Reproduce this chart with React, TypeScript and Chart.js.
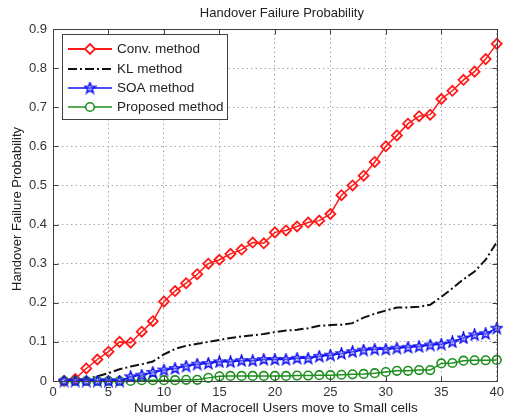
import React, { useEffect, useRef } from 'react';
import { Chart, registerables } from 'chart.js';

Chart.register(...registerables);

const users = [1, 2, 3, 4, 5, 6, 7, 8, 9, 10, 11, 12, 13, 14, 15, 16, 17, 18, 19, 20, 21, 22, 23, 24, 25, 26, 27, 28, 29, 30, 31, 32, 33, 34, 35, 36, 37, 38, 39, 40];
const convMethod = [0, 0.005, 0.032, 0.055, 0.075, 0.1, 0.098, 0.126, 0.153, 0.203, 0.23, 0.25, 0.273, 0.3, 0.31, 0.325, 0.336, 0.354, 0.352, 0.38, 0.385, 0.395, 0.405, 0.41, 0.427, 0.475, 0.5, 0.525, 0.56, 0.6, 0.628, 0.658, 0.677, 0.681, 0.721, 0.742, 0.77, 0.791, 0.823, 0.862];
const klMethod = [0, 0, 0.005, 0.012, 0.02, 0.03, 0.037, 0.043, 0.05, 0.068, 0.082, 0.09, 0.095, 0.1, 0.105, 0.11, 0.114, 0.117, 0.12, 0.125, 0.129, 0.131, 0.135, 0.141, 0.143, 0.144, 0.148, 0.162, 0.172, 0.18, 0.188, 0.188, 0.19, 0.195, 0.215, 0.237, 0.26, 0.28, 0.31, 0.355];
const soaMethod = [0, 0, 0, 0, 0, 0, 0.011, 0.015, 0.022, 0.028, 0.032, 0.038, 0.043, 0.045, 0.049, 0.049, 0.052, 0.052, 0.055, 0.055, 0.055, 0.058, 0.058, 0.063, 0.066, 0.07, 0.075, 0.079, 0.081, 0.081, 0.084, 0.086, 0.088, 0.092, 0.094, 0.1, 0.11, 0.118, 0.121, 0.135];
const proposedMethod = [0, 0, 0, 0, 0, 0, 0, 0.002, 0.002, 0.002, 0.002, 0.003, 0.003, 0.008, 0.012, 0.013, 0.013, 0.013, 0.013, 0.013, 0.013, 0.014, 0.014, 0.015, 0.015, 0.016, 0.017, 0.018, 0.02, 0.023, 0.026, 0.026, 0.028, 0.028, 0.045, 0.046, 0.052, 0.053, 0.053, 0.054];

const seriesNames = ['Conv. method', 'KL method', 'SOA method', 'Proposed method'];
const xTickValues = [0, 5, 10, 15, 20, 25, 30, 35, 40];
const yTickLabels = ['0', '0.1', '0.2', '0.3', '0.4', '0.5', '0.6', '0.7', '0.8', '0.9'];
const chartTitle = 'Handover Failure Probability';
const xAxisTitle = 'Number of Macrocell Users move to Small cells';
const yAxisTitle = 'Handover Failure Probability';

const FONT = '"Liberation Sans", Arial, Helvetica, sans-serif';
const RED = '#ff1a1a';
const BLUE = '#1010f0';
const GREEN = '#1f8f1f';
const BLACK = '#111111';
const KL_DASH = [9, 3, 2, 3];

function makeStar(color: string): HTMLCanvasElement {
  const c = document.createElement('canvas');
  c.width = 13;
  c.height = 13;
  const g = c.getContext('2d')!;
  const cx = 6.5, cy = 6.7, ro = 5.8, ri = 2.4;
  g.beginPath();
  for (let i = 0; i < 10; i++) {
    const r = i % 2 === 0 ? ro : ri;
    const a = -Math.PI / 2 + (i * Math.PI) / 5;
    const px = cx + r * Math.cos(a);
    const py = cy + r * Math.sin(a);
    if (i === 0) g.moveTo(px, py); else g.lineTo(px, py);
  }
  g.closePath();
  g.fillStyle = 'rgba(150,150,255,0.5)';
  g.fill();
  g.lineWidth = 1.4;
  g.strokeStyle = color;
  g.lineJoin = 'miter';
  g.stroke();
  return c;
}

export default function App() {
  const ref = useRef<HTMLCanvasElement | null>(null);

  useEffect(() => {
    if (!ref.current) return;
    const star = makeStar(BLUE);

    const drawMarker = (ctx: CanvasRenderingContext2D, kind: string, x: number, y: number) => {
      ctx.save();
      if (kind === 'diamond') {
        ctx.strokeStyle = RED;
        ctx.lineWidth = 1.8;
        ctx.beginPath();
        ctx.moveTo(x, y - 5);
        ctx.lineTo(x + 5, y);
        ctx.lineTo(x, y + 5);
        ctx.lineTo(x - 5, y);
        ctx.closePath();
        ctx.fillStyle = '#fff';
        ctx.fill();
        ctx.stroke();
      } else if (kind === 'star') {
        ctx.drawImage(star, x - 6.5, y - 6.5);
      } else if (kind === 'circle') {
        ctx.strokeStyle = GREEN;
        ctx.lineWidth = 1.6;
        ctx.beginPath();
        ctx.arc(x, y, 4.3, 0, Math.PI * 2);
        ctx.fillStyle = '#fff';
        ctx.fill();
        ctx.stroke();
      }
      ctx.restore();
    };

    const decorPlugin = {
      id: 'decor',
      afterDraw(chart: any) {
        const { ctx, chartArea, scales } = chart;
        const { left, right, top, bottom } = chartArea;
        const L = Math.round(left) + 0.5, R = Math.round(right) + 0.5;
        const T = Math.round(top) + 0.5, B = Math.round(bottom) + 0.5;
        ctx.save();
        ctx.strokeStyle = '#404040';
        ctx.lineWidth = 1;
        ctx.setLineDash([]);
        ctx.strokeRect(L, T, R - L, B - T);
        ctx.beginPath();
        xTickValues.forEach((v) => {
          const px = Math.round(scales.x.getPixelForValue(v)) + 0.5;
          ctx.moveTo(px, B); ctx.lineTo(px, B - 5);
          ctx.moveTo(px, T); ctx.lineTo(px, T + 5);
        });
        yTickLabels.forEach((_, i) => {
          const py = Math.round(scales.y.getPixelForValue(i / 10)) + 0.5;
          ctx.moveTo(L, py); ctx.lineTo(L + 5, py);
          ctx.moveTo(R, py); ctx.lineTo(R - 5, py);
        });
        ctx.stroke();

        ctx.fillStyle = '#222';
        ctx.textAlign = 'center';
        ctx.textBaseline = 'middle';
        ctx.font = `13px ${FONT}`;
        ctx.fillText(chartTitle, (left + right) / 2 + 7, 13);
        ctx.font = `13.5px ${FONT}`;
        ctx.fillText(xAxisTitle, (left + right) / 2 + 1, 408);
        ctx.save();
        ctx.translate(17, (top + bottom) / 2 + 4);
        ctx.rotate(-Math.PI / 2);
        ctx.font = `13px ${FONT}`;
        ctx.fillText(yAxisTitle, 0, 0);
        ctx.restore();

        const lx = 62, ly = 34, lw = 165, lh = 85;
        ctx.fillStyle = '#ffffff';
        ctx.fillRect(lx, ly, lw, lh);
        ctx.strokeStyle = '#404040';
        ctx.lineWidth = 1;
        ctx.strokeRect(lx + 0.5, ly + 0.5, lw, lh);
        const rows = [49, 69, 88, 107];
        const styles = [
          { color: RED, dash: [] as number[], marker: 'diamond', width: 1.8 },
          { color: BLACK, dash: KL_DASH, marker: '', width: 2 },
          { color: BLUE, dash: [] as number[], marker: 'star', width: 1.6 },
          { color: GREEN, dash: [] as number[], marker: 'circle', width: 1.6 },
        ];
        rows.forEach((ry, i) => {
          const s = styles[i];
          ctx.save();
          ctx.strokeStyle = s.color;
          ctx.lineWidth = s.width;
          ctx.setLineDash(s.dash);
          ctx.beginPath();
          ctx.moveTo(68, ry);
          ctx.lineTo(112, ry);
          ctx.stroke();
          ctx.restore();
          if (s.marker) drawMarker(ctx, s.marker, 90, ry);
          ctx.fillStyle = '#222';
          ctx.textAlign = 'left';
          ctx.textBaseline = 'middle';
          ctx.font = `13.5px ${FONT}`;
          ctx.fillText(seriesNames[i], 117, ry + 0.5);
        });
        ctx.restore();
      },
    };

    const pts = (vals: number[]) => users.map((u, i) => ({ x: u, y: vals[i] }));

    const chart = new Chart(ref.current, {
      type: 'line',
      data: {
        datasets: [
          {
            label: seriesNames[0],
            data: pts(convMethod),
            borderColor: RED,
            borderWidth: 1.5,
            pointStyle: 'rectRot',
            pointRadius: 5,
            pointBorderWidth: 1.8,
            pointBorderColor: RED,
            pointBackgroundColor: 'rgba(255,255,255,0)',
            clip: false,
            order: 4,
          },
          {
            label: seriesNames[1],
            data: pts(klMethod),
            borderColor: BLACK,
            borderWidth: 2,
            borderDash: KL_DASH,
            pointRadius: 0,
            clip: false,
            order: 3,
          },
          {
            label: seriesNames[2],
            data: pts(soaMethod),
            borderColor: BLUE,
            borderWidth: 1.5,
            pointStyle: star,
            pointRadius: 6,
            pointBorderWidth: 0,
            clip: false,
            order: 1,
          },
          {
            label: seriesNames[3],
            data: pts(proposedMethod),
            borderColor: GREEN,
            borderWidth: 1.5,
            pointStyle: 'circle',
            pointRadius: 4.3,
            pointBorderWidth: 1.6,
            pointBorderColor: GREEN,
            pointBackgroundColor: 'rgba(255,255,255,0)',
            clip: false,
            order: 2,
          },
        ],
      },
      options: {
        responsive: false,
        maintainAspectRatio: false,
        animation: false,
        devicePixelRatio: 1,
        layout: { padding: { top: 29, right: 9, left: 0, bottom: 0 } },
        plugins: { legend: { display: false }, title: { display: false }, tooltip: { enabled: false } },
        elements: { line: { tension: 0 } },
        scales: {
          x: {
            type: 'linear',
            min: 0,
            max: 40,
            afterFit: (s: any) => { s.height = 38; },
            ticks: {
              stepSize: 5,
              padding: 4,
              color: '#333',
              font: { family: FONT, size: 13 },
              maxRotation: 0,
              callback: (_v: any, i: number) => String(xTickValues[i]),
            },
            grid: { color: '#a8a8a8', lineWidth: 1, drawTicks: false },
            border: { display: false, dash: [1.5, 3] },
          },
          y: {
            type: 'linear',
            min: 0,
            max: 0.9,
            afterFit: (s: any) => { s.width = 53; },
            ticks: {
              stepSize: 0.1,
              padding: 6,
              color: '#333',
              font: { family: FONT, size: 13 },
              callback: (_v: any, i: number) => yTickLabels[i],
            },
            grid: { color: '#a8a8a8', lineWidth: 1, drawTicks: false },
            border: { display: false, dash: [1.5, 3] },
          },
        },
      },
      plugins: [decorPlugin],
    });
    return () => chart.destroy();
  }, []);

  return (
    <div style={{ position: 'fixed', left: 0, top: 0, width: 508, height: 419, background: '#fff' }}>
      <canvas ref={ref} width={508} height={419} style={{ display: 'block' }} />
    </div>
  );
}
